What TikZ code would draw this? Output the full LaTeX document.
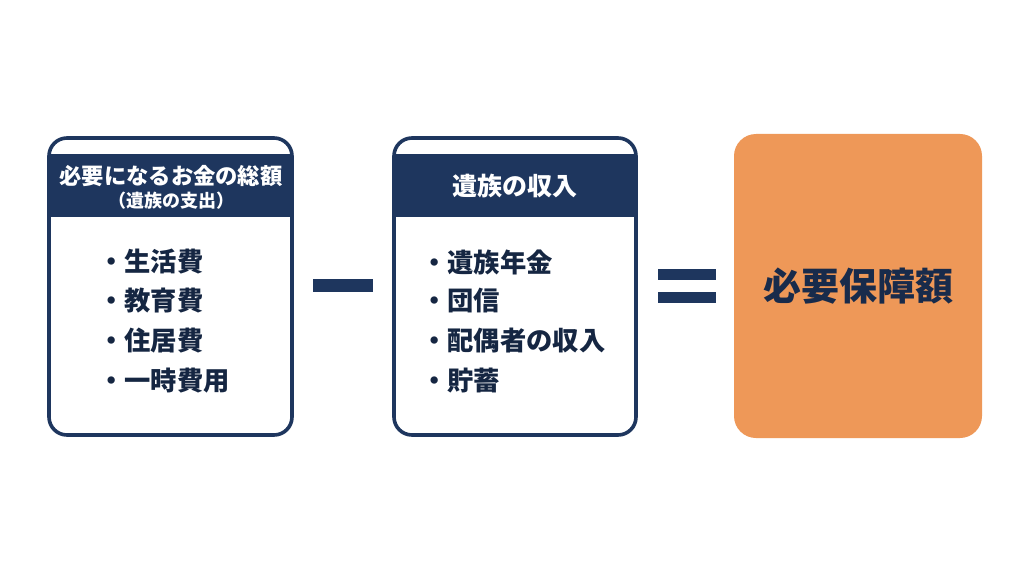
\documentclass[tikz,border=0pt]{standalone}
\usepackage{fontspec}
\newfontfamily\cjk{Noto Sans CJK JP}
\definecolor{navy}{RGB}{30,54,94}
\definecolor{orng}{RGB}{238,152,88}
\begin{document}
\begin{tikzpicture}[x=1pt,y=-1pt,
  frame/.style={draw=navy,line width=3.6pt,rounded corners=18pt},
  head/.style={fill=navy},
  headtext/.style={text=white,font=\cjk\bfseries,inner sep=0pt},
  item/.style={text=navy!70!black,font=\cjk\bfseries\fontsize{26.3}{28}\selectfont,anchor=west,inner sep=0pt},
  opbar/.style={fill=navy}]
\useasboundingbox (0,0) rectangle (1024,572);
\fill[white] (0,0) rectangle (1024,572);
% left box
\fill[head] (49,154) rectangle (292,217);
\draw[frame] (49,138) rectangle (292,435);
\node[headtext,font=\cjk\bfseries\fontsize{22.3}{24}\selectfont] (lh1) at (171,176) {必要になるお金の総額};
\node[headtext,font=\cjk\bfseries\fontsize{18}{20}\selectfont] (lh2) at (171,201) {（遺族の支出）};
\node[item] (l1) at (98,262) {・生活費};
\node[item] (l2) at (98,301) {・教育費};
\node[item] (l3) at (98,341) {・住居費};
\node[item] (l4) at (98,381) {・一時費用};
% minus
\fill[opbar] (313,279) rectangle (373,292);
% middle box
\fill[head] (394,154) rectangle (636,217);
\draw[frame] (394,138) rectangle (636,435);
\node[headtext,font=\cjk\bfseries\fontsize{25}{27}\selectfont] (mh) at (515,186) {遺族の収入};
\node[item] (m1) at (421,262) {・遺族年金};
\node[item] (m2) at (421,301) {・団信};
\node[item] (m3) at (421,341) {・配偶者の収入};
\node[item] (m4) at (421,381) {・貯蓄};
% equals
\fill[opbar] (658,269) rectangle (716,280);
\fill[opbar] (658,292) rectangle (716,303);
% result
\fill[orng,rounded corners=22pt] (734,134) rectangle (982,438);
\node[text=navy!80!black,font=\cjk\bfseries\fontsize{38}{42}\selectfont,inner sep=0pt] (res) at (858,286) {必要保障額};
\end{tikzpicture}
\end{document}
